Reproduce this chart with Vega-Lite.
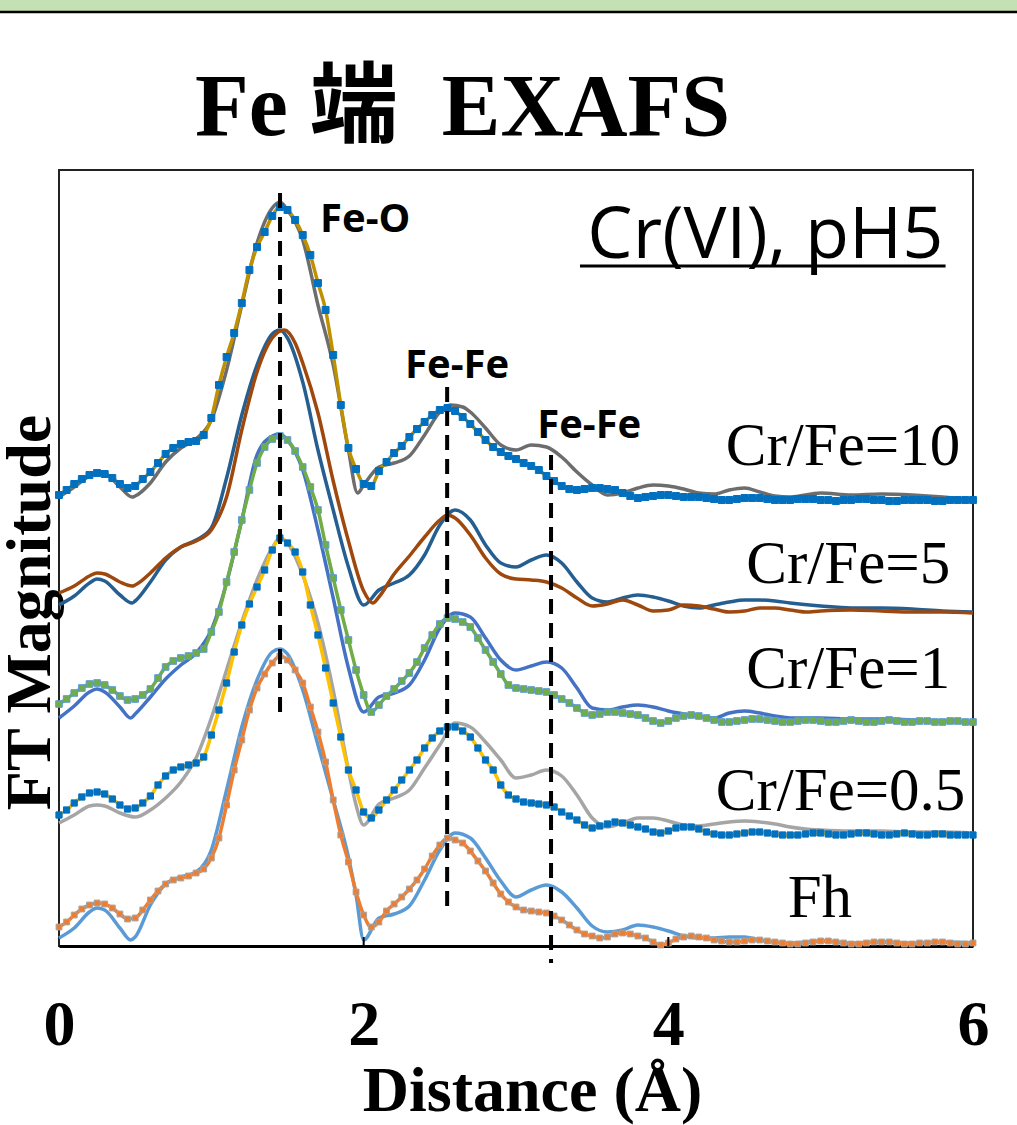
{
"$schema":"https://vega.github.io/schema/vega-lite/v6.json",
"autosize":{"type":"none"},
"width":914,"height":776,
"padding":{"left":59,"top":170,"right":44,"bottom":179},
"background":"#ffffff",
"title":{"text":"Fe 端\u00a0\u00a0EXAFS","font":"Liberation Serif, Noto Sans CJK JP","fontSize":88,"fontWeight":"bold","color":"#000","anchor":"start","frame":"group","dx":136,"offset":-225,"baseline":"alphabetic"},
"config":{"view":{"stroke":"#222","strokeWidth":2},"axis":{"grid":false}},
"datasets":{"curves":[
{"s":"d10","x":0,"y":4.49},{"s":"d10","x":0.1,"y":4.59},{"s":"d10","x":0.2,"y":4.70},{"s":"d10","x":0.27,"y":4.74},{"s":"d10","x":0.3,"y":4.73},{"s":"d10","x":0.4,"y":4.59},{"s":"d10","x":0.48,"y":4.49},{"s":"d10","x":0.5,"y":4.50},{"s":"d10","x":0.6,"y":4.63},{"s":"d10","x":0.7,"y":4.84},{"s":"d10","x":0.8,"y":4.98},{"s":"d10","x":0.9,"y":5.07},{"s":"d10","x":1.0,"y":5.26},{"s":"d10","x":1.1,"y":5.76},{"s":"d10","x":1.2,"y":6.41},{"s":"d10","x":1.3,"y":7.03},{"s":"d10","x":1.4,"y":7.38},{"s":"d10","x":1.45,"y":7.44},{"s":"d10","x":1.5,"y":7.36},{"s":"d10","x":1.6,"y":7.06},{"s":"d10","x":1.7,"y":6.41},{"s":"d10","x":1.8,"y":5.81},{"s":"d10","x":1.9,"y":4.96},{"s":"d10","x":1.96,"y":4.53},{"s":"d10","x":2.0,"y":4.61},{"s":"d10","x":2.1,"y":4.79},{"s":"d10","x":2.2,"y":4.83},{"s":"d10","x":2.3,"y":4.90},{"s":"d10","x":2.4,"y":5.11},{"s":"d10","x":2.5,"y":5.34},{"s":"d10","x":2.57,"y":5.41},{"s":"d10","x":2.65,"y":5.39},{"s":"d10","x":2.7,"y":5.34},{"s":"d10","x":2.8,"y":5.18},{"s":"d10","x":2.9,"y":5.01},{"s":"d10","x":3.0,"y":4.96},{"s":"d10","x":3.1,"y":5.01},{"s":"d10","x":3.2,"y":4.99},{"s":"d10","x":3.3,"y":4.89},{"s":"d10","x":3.4,"y":4.74},{"s":"d10","x":3.5,"y":4.61},{"s":"d10","x":3.6,"y":4.51},{"s":"d10","x":3.7,"y":4.53},{"s":"d10","x":3.8,"y":4.58},{"s":"d10","x":3.9,"y":4.61},{"s":"d10","x":4.0,"y":4.60},{"s":"d10","x":4.1,"y":4.57},{"s":"d10","x":4.2,"y":4.53},{"s":"d10","x":4.3,"y":4.52},{"s":"d10","x":4.4,"y":4.56},{"s":"d10","x":4.5,"y":4.58},{"s":"d10","x":4.6,"y":4.54},{"s":"d10","x":4.7,"y":4.50},{"s":"d10","x":4.8,"y":4.49},{"s":"d10","x":5.0,"y":4.53},{"s":"d10","x":5.2,"y":4.51},{"s":"d10","x":5.4,"y":4.52},{"s":"d10","x":5.6,"y":4.51},{"s":"d10","x":5.8,"y":4.49},{"s":"d10","x":6.0,"y":4.46},
{"s":"d5","x":0,"y":3.41},{"s":"d5","x":0.1,"y":3.50},{"s":"d5","x":0.2,"y":3.63},{"s":"d5","x":0.25,"y":3.67},{"s":"d5","x":0.3,"y":3.65},{"s":"d5","x":0.4,"y":3.51},{"s":"d5","x":0.48,"y":3.43},{"s":"d5","x":0.5,"y":3.45},{"s":"d5","x":0.6,"y":3.64},{"s":"d5","x":0.7,"y":3.86},{"s":"d5","x":0.8,"y":3.99},{"s":"d5","x":0.9,"y":4.06},{"s":"d5","x":1.0,"y":4.18},{"s":"d5","x":1.1,"y":4.68},{"s":"d5","x":1.2,"y":5.31},{"s":"d5","x":1.3,"y":5.81},{"s":"d5","x":1.4,"y":6.12},{"s":"d5","x":1.45,"y":6.16},{"s":"d5","x":1.5,"y":6.08},{"s":"d5","x":1.6,"y":5.64},{"s":"d5","x":1.7,"y":4.96},{"s":"d5","x":1.8,"y":4.36},{"s":"d5","x":1.9,"y":3.79},{"s":"d5","x":2.0,"y":3.41},{"s":"d5","x":2.1,"y":3.56},{"s":"d5","x":2.2,"y":3.63},{"s":"d5","x":2.3,"y":3.71},{"s":"d5","x":2.4,"y":3.91},{"s":"d5","x":2.5,"y":4.21},{"s":"d5","x":2.6,"y":4.36},{"s":"d5","x":2.7,"y":4.26},{"s":"d5","x":2.8,"y":4.01},{"s":"d5","x":2.9,"y":3.83},{"s":"d5","x":3.0,"y":3.79},{"s":"d5","x":3.1,"y":3.86},{"s":"d5","x":3.2,"y":3.91},{"s":"d5","x":3.3,"y":3.83},{"s":"d5","x":3.4,"y":3.64},{"s":"d5","x":3.5,"y":3.48},{"s":"d5","x":3.6,"y":3.44},{"s":"d5","x":3.7,"y":3.48},{"s":"d5","x":3.8,"y":3.51},{"s":"d5","x":3.9,"y":3.49},{"s":"d5","x":4.0,"y":3.45},{"s":"d5","x":4.1,"y":3.40},{"s":"d5","x":4.2,"y":3.38},{"s":"d5","x":4.3,"y":3.41},{"s":"d5","x":4.4,"y":3.44},{"s":"d5","x":4.5,"y":3.46},{"s":"d5","x":4.6,"y":3.46},{"s":"d5","x":4.7,"y":3.45},{"s":"d5","x":4.8,"y":3.43},{"s":"d5","x":5.0,"y":3.40},{"s":"d5","x":5.2,"y":3.38},{"s":"d5","x":5.4,"y":3.38},{"s":"d5","x":5.6,"y":3.37},{"s":"d5","x":5.8,"y":3.35},{"s":"d5","x":6.0,"y":3.34},
{"s":"f5","x":0,"y":3.53},{"s":"f5","x":0.1,"y":3.60},{"s":"f5","x":0.2,"y":3.70},{"s":"f5","x":0.25,"y":3.73},{"s":"f5","x":0.3,"y":3.72},{"s":"f5","x":0.4,"y":3.64},{"s":"f5","x":0.48,"y":3.60},{"s":"f5","x":0.5,"y":3.61},{"s":"f5","x":0.6,"y":3.73},{"s":"f5","x":0.7,"y":3.88},{"s":"f5","x":0.8,"y":3.99},{"s":"f5","x":0.9,"y":4.05},{"s":"f5","x":1.0,"y":4.16},{"s":"f5","x":1.1,"y":4.49},{"s":"f5","x":1.2,"y":5.16},{"s":"f5","x":1.3,"y":5.74},{"s":"f5","x":1.4,"y":6.08},{"s":"f5","x":1.48,"y":6.16},{"s":"f5","x":1.55,"y":6.03},{"s":"f5","x":1.6,"y":5.83},{"s":"f5","x":1.7,"y":5.33},{"s":"f5","x":1.8,"y":4.65},{"s":"f5","x":1.9,"y":4.05},{"s":"f5","x":2.0,"y":3.55},{"s":"f5","x":2.06,"y":3.43},{"s":"f5","x":2.1,"y":3.49},{"s":"f5","x":2.2,"y":3.72},{"s":"f5","x":2.3,"y":3.90},{"s":"f5","x":2.4,"y":4.09},{"s":"f5","x":2.5,"y":4.26},{"s":"f5","x":2.55,"y":4.31},{"s":"f5","x":2.6,"y":4.28},{"s":"f5","x":2.7,"y":4.11},{"s":"f5","x":2.8,"y":3.88},{"s":"f5","x":2.9,"y":3.72},{"s":"f5","x":3.0,"y":3.67},{"s":"f5","x":3.1,"y":3.66},{"s":"f5","x":3.2,"y":3.64},{"s":"f5","x":3.3,"y":3.58},{"s":"f5","x":3.4,"y":3.48},{"s":"f5","x":3.5,"y":3.40},{"s":"f5","x":3.6,"y":3.42},{"s":"f5","x":3.7,"y":3.46},{"s":"f5","x":3.8,"y":3.41},{"s":"f5","x":3.9,"y":3.35},{"s":"f5","x":4.0,"y":3.36},{"s":"f5","x":4.1,"y":3.41},{"s":"f5","x":4.2,"y":3.40},{"s":"f5","x":4.3,"y":3.37},{"s":"f5","x":4.4,"y":3.34},{"s":"f5","x":4.5,"y":3.35},{"s":"f5","x":4.6,"y":3.38},{"s":"f5","x":4.7,"y":3.38},{"s":"f5","x":4.8,"y":3.36},{"s":"f5","x":4.9,"y":3.34},{"s":"f5","x":5.0,"y":3.35},{"s":"f5","x":5.2,"y":3.36},{"s":"f5","x":5.4,"y":3.35},{"s":"f5","x":5.6,"y":3.34},{"s":"f5","x":5.8,"y":3.34},{"s":"f5","x":6.0,"y":3.33},
{"s":"d1","x":0,"y":2.28},{"s":"d1","x":0.1,"y":2.40},{"s":"d1","x":0.2,"y":2.54},{"s":"d1","x":0.25,"y":2.57},{"s":"d1","x":0.3,"y":2.54},{"s":"d1","x":0.4,"y":2.39},{"s":"d1","x":0.47,"y":2.28},{"s":"d1","x":0.5,"y":2.32},{"s":"d1","x":0.6,"y":2.49},{"s":"d1","x":0.7,"y":2.67},{"s":"d1","x":0.8,"y":2.81},{"s":"d1","x":0.9,"y":2.93},{"s":"d1","x":1.0,"y":3.16},{"s":"d1","x":1.1,"y":3.63},{"s":"d1","x":1.2,"y":4.26},{"s":"d1","x":1.3,"y":4.91},{"s":"d1","x":1.4,"y":5.10},{"s":"d1","x":1.45,"y":5.12},{"s":"d1","x":1.5,"y":5.06},{"s":"d1","x":1.6,"y":4.76},{"s":"d1","x":1.7,"y":4.16},{"s":"d1","x":1.8,"y":3.48},{"s":"d1","x":1.9,"y":2.78},{"s":"d1","x":2.0,"y":2.34},{"s":"d1","x":2.1,"y":2.49},{"s":"d1","x":2.2,"y":2.53},{"s":"d1","x":2.3,"y":2.61},{"s":"d1","x":2.4,"y":2.86},{"s":"d1","x":2.5,"y":3.18},{"s":"d1","x":2.6,"y":3.33},{"s":"d1","x":2.7,"y":3.29},{"s":"d1","x":2.8,"y":3.08},{"s":"d1","x":2.9,"y":2.86},{"s":"d1","x":3.0,"y":2.76},{"s":"d1","x":3.1,"y":2.80},{"s":"d1","x":3.2,"y":2.84},{"s":"d1","x":3.3,"y":2.78},{"s":"d1","x":3.4,"y":2.58},{"s":"d1","x":3.5,"y":2.38},{"s":"d1","x":3.6,"y":2.36},{"s":"d1","x":3.7,"y":2.39},{"s":"d1","x":3.8,"y":2.41},{"s":"d1","x":3.9,"y":2.39},{"s":"d1","x":4.0,"y":2.35},{"s":"d1","x":4.1,"y":2.32},{"s":"d1","x":4.2,"y":2.29},{"s":"d1","x":4.3,"y":2.28},{"s":"d1","x":4.4,"y":2.33},{"s":"d1","x":4.5,"y":2.35},{"s":"d1","x":4.6,"y":2.33},{"s":"d1","x":4.7,"y":2.30},{"s":"d1","x":4.8,"y":2.28},{"s":"d1","x":5.0,"y":2.28},{"s":"d1","x":5.2,"y":2.27},{"s":"d1","x":5.4,"y":2.27},{"s":"d1","x":5.6,"y":2.26},{"s":"d1","x":5.8,"y":2.25},{"s":"d1","x":6.0,"y":2.23},
{"s":"d05","x":0,"y":1.23},{"s":"d05","x":0.1,"y":1.31},{"s":"d05","x":0.2,"y":1.40},{"s":"d05","x":0.25,"y":1.41},{"s":"d05","x":0.3,"y":1.40},{"s":"d05","x":0.4,"y":1.33},{"s":"d05","x":0.5,"y":1.29},{"s":"d05","x":0.6,"y":1.36},{"s":"d05","x":0.7,"y":1.48},{"s":"d05","x":0.8,"y":1.64},{"s":"d05","x":0.9,"y":1.88},{"s":"d05","x":1.0,"y":2.28},{"s":"d05","x":1.1,"y":2.76},{"s":"d05","x":1.2,"y":3.24},{"s":"d05","x":1.3,"y":3.66},{"s":"d05","x":1.4,"y":3.98},{"s":"d05","x":1.45,"y":4.08},{"s":"d05","x":1.5,"y":4.03},{"s":"d05","x":1.6,"y":3.71},{"s":"d05","x":1.7,"y":3.23},{"s":"d05","x":1.8,"y":2.56},{"s":"d05","x":1.9,"y":1.76},{"s":"d05","x":1.95,"y":1.41},{"s":"d05","x":2.0,"y":1.21},{"s":"d05","x":2.1,"y":1.42},{"s":"d05","x":2.2,"y":1.48},{"s":"d05","x":2.3,"y":1.56},{"s":"d05","x":2.4,"y":1.78},{"s":"d05","x":2.5,"y":2.01},{"s":"d05","x":2.6,"y":2.23},{"s":"d05","x":2.7,"y":2.19},{"s":"d05","x":2.8,"y":2.04},{"s":"d05","x":2.9,"y":1.86},{"s":"d05","x":3.0,"y":1.68},{"s":"d05","x":3.1,"y":1.71},{"s":"d05","x":3.2,"y":1.76},{"s":"d05","x":3.3,"y":1.70},{"s":"d05","x":3.4,"y":1.51},{"s":"d05","x":3.5,"y":1.28},{"s":"d05","x":3.6,"y":1.19},{"s":"d05","x":3.7,"y":1.23},{"s":"d05","x":3.8,"y":1.28},{"s":"d05","x":3.9,"y":1.28},{"s":"d05","x":4.0,"y":1.25},{"s":"d05","x":4.1,"y":1.21},{"s":"d05","x":4.2,"y":1.20},{"s":"d05","x":4.3,"y":1.22},{"s":"d05","x":4.4,"y":1.24},{"s":"d05","x":4.5,"y":1.25},{"s":"d05","x":4.6,"y":1.24},{"s":"d05","x":4.7,"y":1.22},{"s":"d05","x":4.8,"y":1.19},{"s":"d05","x":4.9,"y":1.17},{"s":"d05","x":5.0,"y":1.16},{"s":"d05","x":5.2,"y":1.15},{"s":"d05","x":5.4,"y":1.15},{"s":"d05","x":5.6,"y":1.14},{"s":"d05","x":5.8,"y":1.14},{"s":"d05","x":6.0,"y":1.13},
{"s":"dFh","x":0,"y":0.08},{"s":"dFh","x":0.1,"y":0.18},{"s":"dFh","x":0.2,"y":0.34},{"s":"dFh","x":0.25,"y":0.38},{"s":"dFh","x":0.3,"y":0.36},{"s":"dFh","x":0.4,"y":0.18},{"s":"dFh","x":0.47,"y":0.06},{"s":"dFh","x":0.5,"y":0.09},{"s":"dFh","x":0.6,"y":0.41},{"s":"dFh","x":0.7,"y":0.62},{"s":"dFh","x":0.8,"y":0.69},{"s":"dFh","x":0.9,"y":0.74},{"s":"dFh","x":1.0,"y":0.96},{"s":"dFh","x":1.1,"y":1.56},{"s":"dFh","x":1.2,"y":2.19},{"s":"dFh","x":1.3,"y":2.66},{"s":"dFh","x":1.4,"y":2.94},{"s":"dFh","x":1.45,"y":2.97},{"s":"dFh","x":1.5,"y":2.92},{"s":"dFh","x":1.6,"y":2.56},{"s":"dFh","x":1.7,"y":2.01},{"s":"dFh","x":1.8,"y":1.46},{"s":"dFh","x":1.9,"y":0.89},{"s":"dFh","x":1.95,"y":0.51},{"s":"dFh","x":2.0,"y":0.06},{"s":"dFh","x":2.1,"y":0.28},{"s":"dFh","x":2.2,"y":0.32},{"s":"dFh","x":2.3,"y":0.40},{"s":"dFh","x":2.4,"y":0.66},{"s":"dFh","x":2.5,"y":0.96},{"s":"dFh","x":2.6,"y":1.13},{"s":"dFh","x":2.7,"y":1.08},{"s":"dFh","x":2.8,"y":0.88},{"s":"dFh","x":2.9,"y":0.65},{"s":"dFh","x":3.0,"y":0.49},{"s":"dFh","x":3.1,"y":0.56},{"s":"dFh","x":3.2,"y":0.61},{"s":"dFh","x":3.3,"y":0.54},{"s":"dFh","x":3.4,"y":0.38},{"s":"dFh","x":3.5,"y":0.20},{"s":"dFh","x":3.6,"y":0.14},{"s":"dFh","x":3.7,"y":0.16},{"s":"dFh","x":3.8,"y":0.21},{"s":"dFh","x":3.9,"y":0.19},{"s":"dFh","x":4.0,"y":0.15},{"s":"dFh","x":4.1,"y":0.10},{"s":"dFh","x":4.2,"y":0.08},{"s":"dFh","x":4.3,"y":0.08},{"s":"dFh","x":4.4,"y":0.09},{"s":"dFh","x":4.5,"y":0.09},{"s":"dFh","x":4.6,"y":0.06},{"s":"dFh","x":4.7,"y":0.04},{"s":"dFh","x":4.8,"y":0.03},{"s":"dFh","x":5.0,"y":0.05},{"s":"dFh","x":5.2,"y":0.03},{"s":"dFh","x":5.4,"y":0.04},{"s":"dFh","x":5.6,"y":0.03},{"s":"dFh","x":5.8,"y":0.04},{"s":"dFh","x":6.0,"y":0.03},
{"s":"f10","x":0,"y":4.51},{"s":"f10","x":0.05,"y":4.56},{"s":"f10","x":0.1,"y":4.62},{"s":"f10","x":0.15,"y":4.67},{"s":"f10","x":0.2,"y":4.71},{"s":"f10","x":0.25,"y":4.73},{"s":"f10","x":0.3,"y":4.72},{"s":"f10","x":0.35,"y":4.68},{"s":"f10","x":0.4,"y":4.62},{"s":"f10","x":0.45,"y":4.58},{"s":"f10","x":0.5,"y":4.60},{"s":"f10","x":0.55,"y":4.67},{"s":"f10","x":0.6,"y":4.74},{"s":"f10","x":0.65,"y":4.83},{"s":"f10","x":0.7,"y":4.92},{"s":"f10","x":0.75,"y":4.98},{"s":"f10","x":0.8,"y":5.02},{"s":"f10","x":0.85,"y":5.04},{"s":"f10","x":0.9,"y":5.05},{"s":"f10","x":0.95,"y":5.11},{"s":"f10","x":1.0,"y":5.28},{"s":"f10","x":1.05,"y":5.61},{"s":"f10","x":1.1,"y":5.89},{"s":"f10","x":1.15,"y":6.13},{"s":"f10","x":1.2,"y":6.43},{"s":"f10","x":1.25,"y":6.76},{"s":"f10","x":1.3,"y":6.99},{"s":"f10","x":1.35,"y":7.14},{"s":"f10","x":1.4,"y":7.30},{"s":"f10","x":1.45,"y":7.39},{"s":"f10","x":1.5,"y":7.36},{"s":"f10","x":1.55,"y":7.26},{"s":"f10","x":1.6,"y":7.11},{"s":"f10","x":1.65,"y":6.91},{"s":"f10","x":1.7,"y":6.63},{"s":"f10","x":1.75,"y":6.36},{"s":"f10","x":1.8,"y":5.91},{"s":"f10","x":1.85,"y":5.41},{"s":"f10","x":1.9,"y":4.98},{"s":"f10","x":1.95,"y":4.77},{"s":"f10","x":2.0,"y":4.62},{"s":"f10","x":2.05,"y":4.60},{"s":"f10","x":2.1,"y":4.75},{"s":"f10","x":2.15,"y":4.84},{"s":"f10","x":2.2,"y":4.93},{"s":"f10","x":2.25,"y":5.00},{"s":"f10","x":2.3,"y":5.09},{"s":"f10","x":2.35,"y":5.17},{"s":"f10","x":2.4,"y":5.24},{"s":"f10","x":2.45,"y":5.31},{"s":"f10","x":2.5,"y":5.36},{"s":"f10","x":2.55,"y":5.38},{"s":"f10","x":2.6,"y":5.35},{"s":"f10","x":2.65,"y":5.29},{"s":"f10","x":2.7,"y":5.22},{"s":"f10","x":2.75,"y":5.14},{"s":"f10","x":2.8,"y":5.06},{"s":"f10","x":2.85,"y":4.99},{"s":"f10","x":2.9,"y":4.94},{"s":"f10","x":2.95,"y":4.90},{"s":"f10","x":3.0,"y":4.87},{"s":"f10","x":3.05,"y":4.83},{"s":"f10","x":3.1,"y":4.80},{"s":"f10","x":3.15,"y":4.76},{"s":"f10","x":3.2,"y":4.70},{"s":"f10","x":3.25,"y":4.65},{"s":"f10","x":3.3,"y":4.60},{"s":"f10","x":3.35,"y":4.57},{"s":"f10","x":3.4,"y":4.56},{"s":"f10","x":3.45,"y":4.57},{"s":"f10","x":3.5,"y":4.58},{"s":"f10","x":3.55,"y":4.58},{"s":"f10","x":3.6,"y":4.57},{"s":"f10","x":3.65,"y":4.56},{"s":"f10","x":3.7,"y":4.53},{"s":"f10","x":3.75,"y":4.50},{"s":"f10","x":3.8,"y":4.48},{"s":"f10","x":3.85,"y":4.49},{"s":"f10","x":3.9,"y":4.50},{"s":"f10","x":3.95,"y":4.51},{"s":"f10","x":4.0,"y":4.51},{"s":"f10","x":4.05,"y":4.50},{"s":"f10","x":4.1,"y":4.49},{"s":"f10","x":4.15,"y":4.49},{"s":"f10","x":4.2,"y":4.49},{"s":"f10","x":4.25,"y":4.48},{"s":"f10","x":4.3,"y":4.47},{"s":"f10","x":4.35,"y":4.46},{"s":"f10","x":4.4,"y":4.46},{"s":"f10","x":4.45,"y":4.47},{"s":"f10","x":4.5,"y":4.48},{"s":"f10","x":4.55,"y":4.48},{"s":"f10","x":4.6,"y":4.48},{"s":"f10","x":4.65,"y":4.47},{"s":"f10","x":4.7,"y":4.46},{"s":"f10","x":4.75,"y":4.46},{"s":"f10","x":4.8,"y":4.46},{"s":"f10","x":4.85,"y":4.47},{"s":"f10","x":4.9,"y":4.47},{"s":"f10","x":4.95,"y":4.47},{"s":"f10","x":5.0,"y":4.46},{"s":"f10","x":5.05,"y":4.46},{"s":"f10","x":5.1,"y":4.45},{"s":"f10","x":5.15,"y":4.46},{"s":"f10","x":5.2,"y":4.46},{"s":"f10","x":5.25,"y":4.47},{"s":"f10","x":5.3,"y":4.47},{"s":"f10","x":5.35,"y":4.46},{"s":"f10","x":5.4,"y":4.46},{"s":"f10","x":5.45,"y":4.45},{"s":"f10","x":5.5,"y":4.45},{"s":"f10","x":5.55,"y":4.46},{"s":"f10","x":5.6,"y":4.46},{"s":"f10","x":5.65,"y":4.46},{"s":"f10","x":5.7,"y":4.46},{"s":"f10","x":5.75,"y":4.45},{"s":"f10","x":5.8,"y":4.45},{"s":"f10","x":5.85,"y":4.46},{"s":"f10","x":5.9,"y":4.46},{"s":"f10","x":5.95,"y":4.46},{"s":"f10","x":6.0,"y":4.46},
{"s":"f1","x":0,"y":2.42},{"s":"f1","x":0.05,"y":2.47},{"s":"f1","x":0.1,"y":2.53},{"s":"f1","x":0.15,"y":2.58},{"s":"f1","x":0.2,"y":2.62},{"s":"f1","x":0.25,"y":2.63},{"s":"f1","x":0.3,"y":2.61},{"s":"f1","x":0.35,"y":2.56},{"s":"f1","x":0.4,"y":2.50},{"s":"f1","x":0.45,"y":2.46},{"s":"f1","x":0.5,"y":2.47},{"s":"f1","x":0.55,"y":2.51},{"s":"f1","x":0.6,"y":2.57},{"s":"f1","x":0.65,"y":2.68},{"s":"f1","x":0.7,"y":2.79},{"s":"f1","x":0.75,"y":2.85},{"s":"f1","x":0.8,"y":2.88},{"s":"f1","x":0.85,"y":2.90},{"s":"f1","x":0.9,"y":2.93},{"s":"f1","x":0.95,"y":2.97},{"s":"f1","x":1.0,"y":3.14},{"s":"f1","x":1.05,"y":3.34},{"s":"f1","x":1.1,"y":3.64},{"s":"f1","x":1.15,"y":3.94},{"s":"f1","x":1.2,"y":4.26},{"s":"f1","x":1.25,"y":4.56},{"s":"f1","x":1.3,"y":4.83},{"s":"f1","x":1.35,"y":4.99},{"s":"f1","x":1.4,"y":5.07},{"s":"f1","x":1.45,"y":5.10},{"s":"f1","x":1.5,"y":5.06},{"s":"f1","x":1.55,"y":4.95},{"s":"f1","x":1.6,"y":4.79},{"s":"f1","x":1.65,"y":4.59},{"s":"f1","x":1.7,"y":4.36},{"s":"f1","x":1.75,"y":4.01},{"s":"f1","x":1.8,"y":3.68},{"s":"f1","x":1.85,"y":3.36},{"s":"f1","x":1.9,"y":3.06},{"s":"f1","x":1.95,"y":2.76},{"s":"f1","x":2.0,"y":2.51},{"s":"f1","x":2.05,"y":2.34},{"s":"f1","x":2.1,"y":2.41},{"s":"f1","x":2.15,"y":2.50},{"s":"f1","x":2.2,"y":2.57},{"s":"f1","x":2.25,"y":2.65},{"s":"f1","x":2.3,"y":2.73},{"s":"f1","x":2.35,"y":2.84},{"s":"f1","x":2.4,"y":2.98},{"s":"f1","x":2.45,"y":3.11},{"s":"f1","x":2.5,"y":3.22},{"s":"f1","x":2.55,"y":3.28},{"s":"f1","x":2.6,"y":3.27},{"s":"f1","x":2.65,"y":3.24},{"s":"f1","x":2.7,"y":3.19},{"s":"f1","x":2.75,"y":3.08},{"s":"f1","x":2.8,"y":2.96},{"s":"f1","x":2.85,"y":2.84},{"s":"f1","x":2.9,"y":2.72},{"s":"f1","x":2.95,"y":2.61},{"s":"f1","x":3.0,"y":2.58},{"s":"f1","x":3.05,"y":2.57},{"s":"f1","x":3.1,"y":2.56},{"s":"f1","x":3.15,"y":2.55},{"s":"f1","x":3.2,"y":2.54},{"s":"f1","x":3.25,"y":2.51},{"s":"f1","x":3.3,"y":2.47},{"s":"f1","x":3.35,"y":2.43},{"s":"f1","x":3.4,"y":2.38},{"s":"f1","x":3.45,"y":2.33},{"s":"f1","x":3.5,"y":2.31},{"s":"f1","x":3.55,"y":2.32},{"s":"f1","x":3.6,"y":2.34},{"s":"f1","x":3.65,"y":2.34},{"s":"f1","x":3.7,"y":2.33},{"s":"f1","x":3.75,"y":2.32},{"s":"f1","x":3.8,"y":2.31},{"s":"f1","x":3.85,"y":2.28},{"s":"f1","x":3.9,"y":2.25},{"s":"f1","x":3.95,"y":2.23},{"s":"f1","x":4.0,"y":2.25},{"s":"f1","x":4.05,"y":2.28},{"s":"f1","x":4.1,"y":2.30},{"s":"f1","x":4.15,"y":2.31},{"s":"f1","x":4.2,"y":2.30},{"s":"f1","x":4.25,"y":2.28},{"s":"f1","x":4.3,"y":2.26},{"s":"f1","x":4.35,"y":2.24},{"s":"f1","x":4.4,"y":2.24},{"s":"f1","x":4.45,"y":2.25},{"s":"f1","x":4.5,"y":2.26},{"s":"f1","x":4.55,"y":2.27},{"s":"f1","x":4.6,"y":2.27},{"s":"f1","x":4.65,"y":2.26},{"s":"f1","x":4.7,"y":2.25},{"s":"f1","x":4.75,"y":2.24},{"s":"f1","x":4.8,"y":2.24},{"s":"f1","x":4.85,"y":2.25},{"s":"f1","x":4.9,"y":2.26},{"s":"f1","x":4.95,"y":2.26},{"s":"f1","x":5.0,"y":2.25},{"s":"f1","x":5.05,"y":2.24},{"s":"f1","x":5.1,"y":2.24},{"s":"f1","x":5.15,"y":2.25},{"s":"f1","x":5.2,"y":2.26},{"s":"f1","x":5.25,"y":2.25},{"s":"f1","x":5.3,"y":2.24},{"s":"f1","x":5.35,"y":2.24},{"s":"f1","x":5.4,"y":2.25},{"s":"f1","x":5.45,"y":2.26},{"s":"f1","x":5.5,"y":2.25},{"s":"f1","x":5.55,"y":2.24},{"s":"f1","x":5.6,"y":2.24},{"s":"f1","x":5.65,"y":2.25},{"s":"f1","x":5.7,"y":2.25},{"s":"f1","x":5.75,"y":2.24},{"s":"f1","x":5.8,"y":2.24},{"s":"f1","x":5.85,"y":2.25},{"s":"f1","x":5.9,"y":2.25},{"s":"f1","x":5.95,"y":2.24},{"s":"f1","x":6.0,"y":2.24},
{"s":"f05","x":0,"y":1.31},{"s":"f05","x":0.05,"y":1.36},{"s":"f05","x":0.1,"y":1.43},{"s":"f05","x":0.15,"y":1.49},{"s":"f05","x":0.2,"y":1.53},{"s":"f05","x":0.25,"y":1.54},{"s":"f05","x":0.3,"y":1.52},{"s":"f05","x":0.35,"y":1.47},{"s":"f05","x":0.4,"y":1.41},{"s":"f05","x":0.45,"y":1.37},{"s":"f05","x":0.5,"y":1.38},{"s":"f05","x":0.55,"y":1.43},{"s":"f05","x":0.6,"y":1.50},{"s":"f05","x":0.65,"y":1.61},{"s":"f05","x":0.7,"y":1.70},{"s":"f05","x":0.75,"y":1.76},{"s":"f05","x":0.8,"y":1.79},{"s":"f05","x":0.85,"y":1.81},{"s":"f05","x":0.9,"y":1.83},{"s":"f05","x":0.95,"y":1.89},{"s":"f05","x":1.0,"y":2.11},{"s":"f05","x":1.05,"y":2.36},{"s":"f05","x":1.1,"y":2.63},{"s":"f05","x":1.15,"y":2.94},{"s":"f05","x":1.2,"y":3.21},{"s":"f05","x":1.25,"y":3.42},{"s":"f05","x":1.3,"y":3.59},{"s":"f05","x":1.35,"y":3.76},{"s":"f05","x":1.4,"y":3.96},{"s":"f05","x":1.45,"y":4.08},{"s":"f05","x":1.5,"y":4.03},{"s":"f05","x":1.55,"y":3.94},{"s":"f05","x":1.6,"y":3.74},{"s":"f05","x":1.65,"y":3.41},{"s":"f05","x":1.7,"y":3.11},{"s":"f05","x":1.75,"y":2.78},{"s":"f05","x":1.8,"y":2.43},{"s":"f05","x":1.85,"y":2.09},{"s":"f05","x":1.9,"y":1.76},{"s":"f05","x":1.95,"y":1.56},{"s":"f05","x":2.0,"y":1.34},{"s":"f05","x":2.05,"y":1.28},{"s":"f05","x":2.1,"y":1.36},{"s":"f05","x":2.15,"y":1.46},{"s":"f05","x":2.2,"y":1.56},{"s":"f05","x":2.25,"y":1.66},{"s":"f05","x":2.3,"y":1.76},{"s":"f05","x":2.35,"y":1.86},{"s":"f05","x":2.4,"y":1.98},{"s":"f05","x":2.45,"y":2.08},{"s":"f05","x":2.5,"y":2.15},{"s":"f05","x":2.55,"y":2.19},{"s":"f05","x":2.6,"y":2.19},{"s":"f05","x":2.65,"y":2.15},{"s":"f05","x":2.7,"y":2.09},{"s":"f05","x":2.75,"y":1.98},{"s":"f05","x":2.8,"y":1.86},{"s":"f05","x":2.85,"y":1.76},{"s":"f05","x":2.9,"y":1.61},{"s":"f05","x":2.95,"y":1.51},{"s":"f05","x":3.0,"y":1.47},{"s":"f05","x":3.05,"y":1.44},{"s":"f05","x":3.1,"y":1.43},{"s":"f05","x":3.15,"y":1.42},{"s":"f05","x":3.2,"y":1.41},{"s":"f05","x":3.25,"y":1.39},{"s":"f05","x":3.3,"y":1.34},{"s":"f05","x":3.35,"y":1.30},{"s":"f05","x":3.4,"y":1.26},{"s":"f05","x":3.45,"y":1.21},{"s":"f05","x":3.5,"y":1.18},{"s":"f05","x":3.55,"y":1.20},{"s":"f05","x":3.6,"y":1.22},{"s":"f05","x":3.65,"y":1.24},{"s":"f05","x":3.7,"y":1.23},{"s":"f05","x":3.75,"y":1.21},{"s":"f05","x":3.8,"y":1.19},{"s":"f05","x":3.85,"y":1.17},{"s":"f05","x":3.9,"y":1.14},{"s":"f05","x":3.95,"y":1.13},{"s":"f05","x":4.0,"y":1.15},{"s":"f05","x":4.05,"y":1.18},{"s":"f05","x":4.1,"y":1.19},{"s":"f05","x":4.15,"y":1.19},{"s":"f05","x":4.2,"y":1.17},{"s":"f05","x":4.25,"y":1.14},{"s":"f05","x":4.3,"y":1.12},{"s":"f05","x":4.35,"y":1.11},{"s":"f05","x":4.4,"y":1.11},{"s":"f05","x":4.45,"y":1.12},{"s":"f05","x":4.5,"y":1.13},{"s":"f05","x":4.55,"y":1.14},{"s":"f05","x":4.6,"y":1.14},{"s":"f05","x":4.65,"y":1.13},{"s":"f05","x":4.7,"y":1.12},{"s":"f05","x":4.75,"y":1.11},{"s":"f05","x":4.8,"y":1.11},{"s":"f05","x":4.85,"y":1.11},{"s":"f05","x":4.9,"y":1.12},{"s":"f05","x":4.95,"y":1.13},{"s":"f05","x":5.0,"y":1.13},{"s":"f05","x":5.05,"y":1.12},{"s":"f05","x":5.1,"y":1.11},{"s":"f05","x":5.15,"y":1.11},{"s":"f05","x":5.2,"y":1.12},{"s":"f05","x":5.25,"y":1.13},{"s":"f05","x":5.3,"y":1.13},{"s":"f05","x":5.35,"y":1.12},{"s":"f05","x":5.4,"y":1.11},{"s":"f05","x":5.45,"y":1.11},{"s":"f05","x":5.5,"y":1.12},{"s":"f05","x":5.55,"y":1.13},{"s":"f05","x":5.6,"y":1.12},{"s":"f05","x":5.65,"y":1.11},{"s":"f05","x":5.7,"y":1.11},{"s":"f05","x":5.75,"y":1.12},{"s":"f05","x":5.8,"y":1.12},{"s":"f05","x":5.85,"y":1.11},{"s":"f05","x":5.9,"y":1.11},{"s":"f05","x":5.95,"y":1.11},{"s":"f05","x":6.0,"y":1.11},
{"s":"fFh","x":0,"y":0.19},{"s":"fFh","x":0.05,"y":0.24},{"s":"fFh","x":0.1,"y":0.31},{"s":"fFh","x":0.15,"y":0.37},{"s":"fFh","x":0.2,"y":0.41},{"s":"fFh","x":0.25,"y":0.43},{"s":"fFh","x":0.3,"y":0.42},{"s":"fFh","x":0.35,"y":0.38},{"s":"fFh","x":0.4,"y":0.32},{"s":"fFh","x":0.45,"y":0.27},{"s":"fFh","x":0.5,"y":0.28},{"s":"fFh","x":0.55,"y":0.36},{"s":"fFh","x":0.6,"y":0.46},{"s":"fFh","x":0.65,"y":0.55},{"s":"fFh","x":0.7,"y":0.62},{"s":"fFh","x":0.75,"y":0.66},{"s":"fFh","x":0.8,"y":0.68},{"s":"fFh","x":0.85,"y":0.70},{"s":"fFh","x":0.9,"y":0.73},{"s":"fFh","x":0.95,"y":0.77},{"s":"fFh","x":1.0,"y":0.88},{"s":"fFh","x":1.05,"y":1.08},{"s":"fFh","x":1.1,"y":1.41},{"s":"fFh","x":1.15,"y":1.76},{"s":"fFh","x":1.2,"y":2.06},{"s":"fFh","x":1.25,"y":2.36},{"s":"fFh","x":1.3,"y":2.58},{"s":"fFh","x":1.35,"y":2.72},{"s":"fFh","x":1.4,"y":2.83},{"s":"fFh","x":1.45,"y":2.90},{"s":"fFh","x":1.5,"y":2.86},{"s":"fFh","x":1.55,"y":2.76},{"s":"fFh","x":1.6,"y":2.63},{"s":"fFh","x":1.65,"y":2.39},{"s":"fFh","x":1.7,"y":2.14},{"s":"fFh","x":1.75,"y":1.84},{"s":"fFh","x":1.8,"y":1.46},{"s":"fFh","x":1.85,"y":1.11},{"s":"fFh","x":1.9,"y":0.84},{"s":"fFh","x":1.95,"y":0.54},{"s":"fFh","x":2.0,"y":0.31},{"s":"fFh","x":2.05,"y":0.19},{"s":"fFh","x":2.1,"y":0.24},{"s":"fFh","x":2.15,"y":0.35},{"s":"fFh","x":2.2,"y":0.42},{"s":"fFh","x":2.25,"y":0.49},{"s":"fFh","x":2.3,"y":0.57},{"s":"fFh","x":2.35,"y":0.66},{"s":"fFh","x":2.4,"y":0.77},{"s":"fFh","x":2.45,"y":0.90},{"s":"fFh","x":2.5,"y":1.01},{"s":"fFh","x":2.55,"y":1.08},{"s":"fFh","x":2.6,"y":1.06},{"s":"fFh","x":2.65,"y":1.03},{"s":"fFh","x":2.7,"y":0.95},{"s":"fFh","x":2.75,"y":0.85},{"s":"fFh","x":2.8,"y":0.75},{"s":"fFh","x":2.85,"y":0.63},{"s":"fFh","x":2.9,"y":0.52},{"s":"fFh","x":2.95,"y":0.44},{"s":"fFh","x":3.0,"y":0.39},{"s":"fFh","x":3.05,"y":0.36},{"s":"fFh","x":3.1,"y":0.35},{"s":"fFh","x":3.15,"y":0.34},{"s":"fFh","x":3.2,"y":0.33},{"s":"fFh","x":3.25,"y":0.30},{"s":"fFh","x":3.3,"y":0.26},{"s":"fFh","x":3.35,"y":0.21},{"s":"fFh","x":3.4,"y":0.16},{"s":"fFh","x":3.45,"y":0.12},{"s":"fFh","x":3.5,"y":0.10},{"s":"fFh","x":3.55,"y":0.08},{"s":"fFh","x":3.6,"y":0.09},{"s":"fFh","x":3.65,"y":0.12},{"s":"fFh","x":3.7,"y":0.13},{"s":"fFh","x":3.75,"y":0.12},{"s":"fFh","x":3.8,"y":0.10},{"s":"fFh","x":3.85,"y":0.08},{"s":"fFh","x":3.9,"y":0.04},{"s":"fFh","x":3.95,"y":0.01},{"s":"fFh","x":4.0,"y":0.03},{"s":"fFh","x":4.05,"y":0.07},{"s":"fFh","x":4.1,"y":0.09},{"s":"fFh","x":4.15,"y":0.10},{"s":"fFh","x":4.2,"y":0.09},{"s":"fFh","x":4.25,"y":0.08},{"s":"fFh","x":4.3,"y":0.06},{"s":"fFh","x":4.35,"y":0.05},{"s":"fFh","x":4.4,"y":0.04},{"s":"fFh","x":4.45,"y":0.04},{"s":"fFh","x":4.5,"y":0.05},{"s":"fFh","x":4.55,"y":0.06},{"s":"fFh","x":4.6,"y":0.06},{"s":"fFh","x":4.65,"y":0.05},{"s":"fFh","x":4.7,"y":0.04},{"s":"fFh","x":4.75,"y":0.03},{"s":"fFh","x":4.8,"y":0.02},{"s":"fFh","x":4.85,"y":0.02},{"s":"fFh","x":4.9,"y":0.03},{"s":"fFh","x":4.95,"y":0.04},{"s":"fFh","x":5.0,"y":0.05},{"s":"fFh","x":5.05,"y":0.05},{"s":"fFh","x":5.1,"y":0.04},{"s":"fFh","x":5.15,"y":0.03},{"s":"fFh","x":5.2,"y":0.02},{"s":"fFh","x":5.25,"y":0.02},{"s":"fFh","x":5.3,"y":0.03},{"s":"fFh","x":5.35,"y":0.04},{"s":"fFh","x":5.4,"y":0.04},{"s":"fFh","x":5.45,"y":0.04},{"s":"fFh","x":5.5,"y":0.03},{"s":"fFh","x":5.55,"y":0.02},{"s":"fFh","x":5.6,"y":0.02},{"s":"fFh","x":5.65,"y":0.03},{"s":"fFh","x":5.7,"y":0.03},{"s":"fFh","x":5.75,"y":0.04},{"s":"fFh","x":5.8,"y":0.04},{"s":"fFh","x":5.85,"y":0.03},{"s":"fFh","x":5.9,"y":0.02},{"s":"fFh","x":5.95,"y":0.02},{"s":"fFh","x":6.0,"y":0.03}
]},
"data":{"name":"curves"},
"encoding":{
"x":{"field":"x","type":"quantitative","scale":{"domain":[0,6],"nice":false,"zero":false},
"axis":{"values":[0,2,4,6],"ticks":false,"grid":false,"domainColor":"#000","domainWidth":3,"labelFont":"Liberation Serif","labelFontSize":64,"labelFontWeight":"bold","labelColor":"#000","labelPadding":98,"labelBaseline":"alphabetic","labelFlush":false,"labelOverlap":false,"title":"Distance (Å)","titleFont":"Liberation Serif","titleFontSize":64,"titleFontWeight":"bold","titleColor":"#000","titleX":473,"titleY":164,"titleAlign":"center","titleBaseline":"alphabetic"}},
"y":{"field":"y","type":"quantitative","scale":{"domain":[0,7.76],"nice":false,"zero":false},
"axis":{"labels":false,"ticks":false,"domain":false,"grid":false,"title":"FT Magnitude","titleFont":"Liberation Serif","titleFontSize":64,"titleFontWeight":"bold","titleColor":"#000","titleAngle":270,"titleX":-10,"titleY":442,"titleAlign":"center","titleBaseline":"alphabetic"}}
},
"layer":[
{"data":{"values":[{"x":-0.4,"x2":6.3,"y":9.48,"y2":9.35}]},"mark":{"type":"rect","color":"#C5E0B4"},"encoding":{"x2":{"field":"x2"},"y2":{"field":"y2"}}},
{"data":{"values":[{"x":-0.4,"x2":6.3,"y":9.34}]},"mark":{"type":"rule","color":"#000","strokeWidth":2.5},"encoding":{"x2":{"field":"x2"}}},
{"transform":[{"filter":{"field":"s","oneOf":["d10","d5","d1","d05","dFh"]}}],
 "mark":{"type":"line","interpolate":"monotone"},
 "encoding":{"color":{"field":"s","type":"nominal","legend":null,"scale":{"domain":["d10","d5","d1","d05","dFh","f10","f5","f1","f05","fFh"],"range":["#6D6D6D","#255E91","#4472C4","#A5A5A5","#5B9BD5","#BF9000","#9E480E","#70AD47","#FFC000","#ED7D31"]}},
  "strokeWidth":{"field":"s","type":"nominal","legend":null,"scale":{"domain":["d10","d5","d1","d05","dFh","f10","f5","f1","f05","fFh"],"range":[3.5,3.5,3.5,3.5,3.5,1.2,3.5,3.5,4,3.5]}}}},
{"transform":[{"filter":{"field":"s","oneOf":["f10","f5","f1","f05","fFh"]}}],
 "mark":{"type":"line","interpolate":"monotone"},
 "encoding":{"color":{"field":"s","type":"nominal","legend":null},"strokeWidth":{"field":"s","type":"nominal","legend":null}}},
{"transform":[{"filter":{"field":"s","oneOf":["f10","f1","f05","fFh"]}}],
 "mark":{"type":"point","shape":"square","filled":true,"strokeWidth":1,"opacity":1},
 "encoding":{"fill":{"field":"s","type":"nominal","legend":null,"scale":{"domain":["f10","f1","f05","fFh"],"range":["#0070C0","#70AD47","#0070C0","#ED7D31"]}},
  "stroke":{"field":"s","type":"nominal","legend":null,"scale":{"domain":["f10","f1","f05","fFh"],"range":["#0070C0","#5B9BD5","#0070C0","#A5A5A5"]}},
  "size":{"field":"s","type":"nominal","legend":null,"scale":{"domain":["f10","f1","f05","fFh"],"range":[48,34,48,34]}}}},
{"data":{"values":[{"x":1.451,"y":7.53,"y2":2.28},{"x":2.548,"y":5.59,"y2":0.33},{"x":3.23,"y":4.91,"y2":-0.17}]},"mark":{"type":"rule","color":"#000","strokeWidth":4,"strokeDash":[15,9]},"encoding":{"y2":{"field":"y2"}}},
{"data":{"values":[{"x":2,"y":0,"y2":0.09},{"x":4,"y":0,"y2":0.09}]},"mark":{"type":"rule","color":"#000","strokeWidth":2},"encoding":{"y2":{"field":"y2"}}},
{"data":{"values":[{"t":"Fe-O","x":1.714,"y":7.14},{"t":"Fe-Fe","x":2.272,"y":5.68},{"t":"Fe-Fe","x":3.139,"y":5.08}]},"mark":{"type":"text","font":"Open Sans","fontSize":40,"fontWeight":"bold","color":"#000","align":"left","baseline":"alphabetic"},"encoding":{"text":{"field":"t"}}},
{"data":{"values":[{"t":"Cr(VI), pH5","x":5.805,"y":6.88}]},"mark":{"type":"text","font":"Open Sans","fontSize":72,"color":"#000","align":"right","baseline":"alphabetic"},"encoding":{"text":{"field":"t"}}},
{"data":{"values":[{"x":3.42,"x2":5.82,"y":6.8}]},"mark":{"type":"rule","color":"#000","strokeWidth":3},"encoding":{"x2":{"field":"x2"}}},
{"data":{"values":[{"t":"Cr/Fe=10","x":5.916,"y":4.81},{"t":"Cr/Fe=5","x":5.85,"y":3.63},{"t":"Cr/Fe=1","x":5.85,"y":2.58},{"t":"Cr/Fe=0.5","x":5.95,"y":1.36}]},"mark":{"type":"text","font":"Liberation Serif","fontSize":61,"color":"#000","align":"right","baseline":"alphabetic"},"encoding":{"text":{"field":"t"}}},
{"data":{"values":[{"t":"Fh","x":4.995,"y":0.29}]},"mark":{"type":"text","font":"Liberation Serif","fontSize":61,"color":"#000","align":"center","baseline":"alphabetic"},"encoding":{"text":{"field":"t"}}}
]
}
